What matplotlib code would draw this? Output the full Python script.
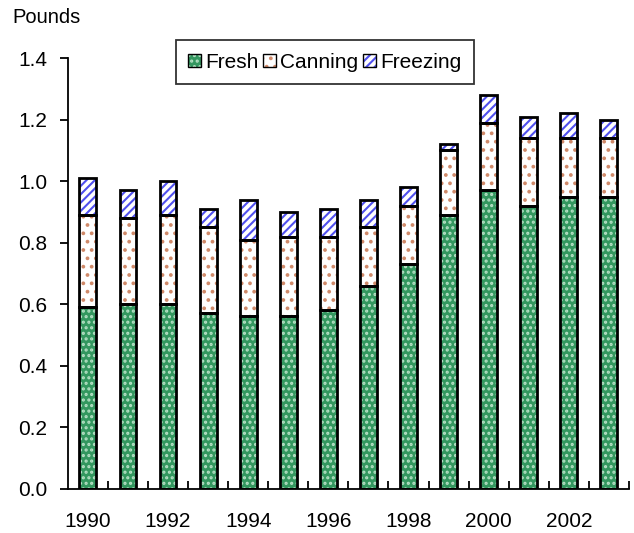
import numpy as np
import matplotlib
matplotlib.use('Agg')
import matplotlib.pyplot as plt
from matplotlib.patches import Patch
from matplotlib.legend_handler import HandlerTuple

plt.rcParams['font.family'] = ['Liberation Sans', 'DejaVu Sans']
plt.rcParams['hatch.linewidth'] = 1.5

years = list(range(1990, 2004))
fresh = [0.59, 0.60, 0.60, 0.57, 0.56, 0.56, 0.58, 0.66, 0.73, 0.89, 0.97, 0.92, 0.95, 0.95]
canning = [0.30, 0.28, 0.29, 0.28, 0.25, 0.26, 0.24, 0.19, 0.19, 0.21, 0.22, 0.22, 0.19, 0.19]
freezing = [0.12, 0.09, 0.11, 0.06, 0.13, 0.08, 0.09, 0.09, 0.06, 0.02, 0.09, 0.07, 0.08, 0.06]
series = ['Fresh', 'Canning', 'Freezing']
tick_years = [1990, 1992, 1994, 1996, 1998, 2000, 2002]

styles = {
    'Fresh': dict(face='#33975f', hatch='...', hcolor='#b5e0c4'),
    'Canning': dict(face='white', hatch='..', hcolor='#d08a6a'),
    'Freezing': dict(face='white', hatch='////', hcolor='#5050ee'),
}

fig = plt.figure(figsize=(6.34, 5.33), dpi=100)
ax = fig.add_axes([0.107, 0.083, 0.885, 0.808])

x = np.arange(len(years))
width = 0.42
bottom = np.zeros(len(years))
for name, vals in zip(series, [fresh, canning, freezing]):
    st = styles[name]
    vals = np.array(vals)
    ax.bar(x, vals, width, bottom=bottom, color=st['face'], hatch=st['hatch'],
           edgecolor=st['hcolor'], linewidth=0, zorder=2)
    ax.bar(x, vals, width, bottom=bottom, fill=False, edgecolor='black',
           linewidth=2, zorder=3)
    bottom += vals

ax.set_xlim(-0.5, 13.5)
ax.set_ylim(0, 1.4)
ax.set_yticks(np.arange(0, 1.41, 0.2))
ax.set_yticklabels(['%.1f' % v for v in np.arange(0, 1.41, 0.2)])
ax.set_xticks(x + 0.5)
ax.set_xticklabels([])
ax.set_xticks([years.index(y) for y in tick_years], minor=True)
ax.set_xticklabels([str(y) for y in tick_years], minor=True)
ax.tick_params(axis='x', which='minor', length=0, pad=17, labelsize=15)
ax.tick_params(axis='x', which='major', length=6, width=1.3, direction='in')
ax.tick_params(axis='y', length=6, width=1.3, labelsize=15, pad=9)
for s in ['top', 'right']:
    ax.spines[s].set_visible(False)
for s in ['left', 'bottom']:
    ax.spines[s].set_linewidth(1.3)

fig.text(0.02, 0.985, 'Pounds', fontsize=14.5, va='top')

handles = [(Patch(facecolor=styles[n]['face'], hatch=styles[n]['hatch'],
                  edgecolor=styles[n]['hcolor'], linewidth=0),
            Patch(fill=False, edgecolor='black', linewidth=1)) for n in series]
leg = ax.legend(handles, series, loc='upper center', bbox_to_anchor=(0.458, 1.042),
                ncol=3, fontsize=15, frameon=True, fancybox=False,
                handler_map={tuple: HandlerTuple(ndivide=1, pad=0)},
                handlelength=0.6, handleheight=0.6, handletextpad=0.2,
                columnspacing=0.25, borderpad=0.6, borderaxespad=0)
leg.get_frame().set_edgecolor('black')
leg.get_frame().set_linewidth(1.3)

fig.savefig('out.png', dpi=100)
